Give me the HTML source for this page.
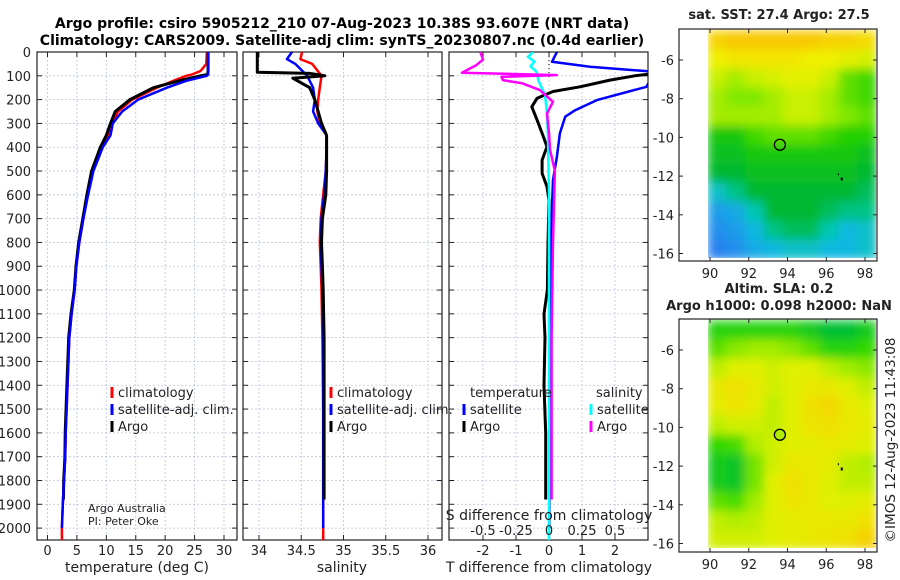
<!DOCTYPE html>
<html><head><meta charset="utf-8"><style>
body{margin:0;background:#fff;}
svg{display:block;font-family:"DejaVu Sans","Liberation Sans",sans-serif;}
</style></head><body>
<svg id="fig" width="900" height="580" viewBox="0 0 900 580" xmlns="http://www.w3.org/2000/svg">
<defs>
<filter id="blur" x="-10%" y="-10%" width="120%" height="120%"><feGaussianBlur stdDeviation="5" edgeMode="duplicate"/></filter>
<clipPath id="clipSst"><rect x="708" y="29" width="168" height="229"/></clipPath>
<clipPath id="clipSla"><rect x="708" y="319" width="168" height="229"/></clipPath>
<clipPath id="clipP1"><rect x="37" y="52" width="200" height="488"/></clipPath>
<clipPath id="clipP2"><rect x="243" y="52" width="199" height="488"/></clipPath>
<clipPath id="clipP3"><rect x="449" y="52" width="199" height="488"/></clipPath>
</defs>
<text x="342" y="28" font-size="14" font-weight="bold" text-anchor="middle">Argo profile: csiro 5905212_210 07-Aug-2023 10.38S 93.607E (NRT data)</text>
<text x="342" y="45" font-size="14" font-weight="bold" text-anchor="middle">Climatology: CARS2009. Satellite-adj clim: synTS_20230807.nc (0.4d earlier)</text>
<g id="layer"></g>
</svg>
<script>
// ---- data ----
const climTdepth=[0,50,80,95,100,120,150,200,250,300,350,400,500,600,700,800,900,1000,1100,1200,1400,1600,1700,1800,1900,2000,2050];
const climT=[27.1,27.0,26.0,24.5,23.6,21.5,18.6,14.4,12.0,11.0,10.3,9.2,7.7,6.8,6.1,5.4,4.9,4.6,4.1,3.7,3.4,3.1,3.0,2.8,2.6,2.45,2.45];
const satTdepth=[0,50,80,95,100,120,150,200,250,300,350,400,500,600,700,800,900,1000,1100,1200,1400,1600,1700,1800,1900,2000];
const satT=[27.3,27.3,27.3,27.3,27.1,23.7,20.3,15.4,12.7,11.1,10.7,9.4,7.8,6.9,6.1,5.4,4.9,4.6,4.1,3.7,3.4,3.1,3.0,2.8,2.6,2.45];
const argoTdepth=[0,50,80,95,100,120,150,200,250,300,350,400,500,600,700,800,900,1000,1100,1200,1400,1600,1700,1800,1880];
const argoT=[27.3,27.3,27.3,27.2,26.0,22.5,18.0,14.0,11.5,10.7,10.0,9.0,7.5,6.7,6.0,5.3,4.85,4.55,4.0,3.6,3.3,3.0,2.95,2.75,2.7];
const climSdepth=[0,30,50,100,150,200,250,300,350,400,500,600,700,800,900,1000,1200,1500,2000,2050];
const climS=[34.51,34.49,34.63,34.74,34.72,34.70,34.69,34.72,34.80,34.80,34.79,34.76,34.73,34.72,34.73,34.74,34.75,34.76,34.76,34.76];
const satSdepth=[0,30,50,100,150,200,250,300,350,400,500,600,700,800,900,1000,1200,1500,2000];
const satS=[34.39,34.33,34.43,34.57,34.64,34.66,34.64,34.70,34.80,34.80,34.79,34.77,34.74,34.73,34.74,34.75,34.76,34.76,34.76];
const argoSdepth=[0,85,90,100,110,130,150,200,250,300,350,400,500,600,700,800,900,1000,1200,1500,1880];
const argoS=[33.98,33.98,34.6,34.78,34.4,34.5,34.6,34.66,34.7,34.74,34.8,34.80,34.80,34.79,34.75,34.74,34.75,34.76,34.77,34.77,34.77];
const satTdDepth=[0,41,62,83,146,202,244,272,341,440,538,650,800,1000,1500,2000];
const satTd=[0.24,0.09,1.24,3.2,2.95,1.45,0.8,0.49,0.33,0.24,0.12,0.09,0.06,0.04,0.02,0.01];
const argoTdDepth=[90,100,118,146,166,194,230,286,341,398,454,510,566,622,800,1000,1100,1200,1400,1600,1880];
const argoTd=[3.2,2.6,1.85,0.94,0.12,-0.36,-0.52,-0.36,-0.21,-0.06,-0.21,-0.21,-0.06,0,-0.03,-0.05,-0.15,-0.12,-0.15,-0.1,-0.1];
const satSdDepth=[0,20,40,60,80,90,120,180,260,350,450,600,1000,2050];
const satSd=[-0.12,-0.16,-0.11,-0.14,-0.1,-0.09,-0.08,-0.03,-0.015,-0.008,-0.005,0,0,0];
const argoSdDepth=[0,32,55,87,97,104,118,132,160,209,258,341,412,500,800,1200,1880];
const argoSd=[-0.52,-0.5,-0.55,-0.66,0.06,-0.36,-0.35,-0.2,-0.07,0.03,-0.015,0,0.008,0.045,0.03,0.02,0.02];
const depthTicks=[0,100,200,300,400,500,600,700,800,900,1000,1100,1200,1300,1400,1500,1600,1700,1800,1900,2000];
const tempTicks=[0,5,10,15,20,25,30];
const salTicks=[34,34.5,35,35.5,36];
const salTickLabels=["34","34.5","35","35.5","36"];
const tdTicks=[-2,-1,0,1,2];
const sdTicks=[-0.5,-0.25,0,0.25,0.5];
const lonTicks=[90,92,94,96,98];
const latTicks=[-6,-8,-10,-12,-14,-16];
const sstGrid=[
[28.2,28.3,28.3,28.3,28.3,28.3,28.2,28.2,28.1],
[27.9,28.0,28.0,28.0,28.0,27.9,27.9,27.8,27.7],
[27.6,27.5,27.6,27.7,27.8,27.8,27.6,27.3,27.2],
[27.5,27.4,27.4,27.5,27.6,27.6,27.5,27.3,27.2],
[27.5,27.5,27.5,27.5,27.6,27.6,27.5,27.4,27.3],
[27.0,27.0,27.2,27.3,27.3,27.3,27.2,27.1,27.1],
[26.9,26.9,27.0,27.0,27.0,27.0,27.0,27.0,26.9],
[26.8,26.8,26.9,26.9,26.9,26.9,26.9,26.9,26.8],
[26.4,26.6,26.8,26.8,26.8,26.8,26.8,26.8,26.7],
[26.1,26.2,26.5,26.8,26.8,26.8,26.7,26.6,26.6],
[26.0,26.1,26.3,26.6,26.7,26.7,26.5,26.3,26.4],
[25.9,26.0,26.2,26.3,26.4,26.4,26.3,26.3,26.4]];
const slaGrid=[
[0.12,0.12,0.12,0.12,0.12,0.1,0.08,0.08,0.1],
[0.15,0.17,0.18,0.18,0.17,0.15,0.12,0.12,0.13],
[0.2,0.22,0.22,0.21,0.22,0.22,0.2,0.18,0.17],
[0.24,0.26,0.24,0.21,0.22,0.24,0.24,0.22,0.2],
[0.23,0.25,0.23,0.2,0.22,0.26,0.27,0.24,0.22],
[0.2,0.21,0.21,0.2,0.22,0.25,0.26,0.24,0.23],
[0.13,0.14,0.19,0.21,0.22,0.23,0.24,0.23,0.22],
[0.1,0.09,0.16,0.21,0.24,0.24,0.23,0.2,0.19],
[0.1,0.09,0.16,0.22,0.26,0.24,0.22,0.2,0.2],
[0.15,0.14,0.18,0.22,0.25,0.24,0.22,0.22,0.23],
[0.2,0.19,0.2,0.22,0.23,0.24,0.24,0.24,0.26],
[0.21,0.21,0.21,0.22,0.23,0.24,0.25,0.26,0.28]];
const argoLon=93.607, argoLat=-10.38;

// ---- helpers ----
const NS="http://www.w3.org/2000/svg";
const layer=document.getElementById('layer');
function mk(tag,attrs,parent){const e=document.createElementNS(NS,tag);for(const k in attrs)e.setAttribute(k,attrs[k]);(parent||layer).appendChild(e);return e;}
function txt(x,y,s,size,anchor,parent){const t=mk('text',{x:x,y:y,'font-size':size,'text-anchor':anchor||'middle',fill:'#222'},parent);t.textContent=s;return t;}
const Y0=52, Y1=540;
const yD=d=>Y0+d/2050*(Y1-Y0);
function lin(d0,d1,r0,r1){return v=>r0+(v-d0)/(d1-d0)*(r1-r0);}
const xT=lin(0,30,47.5,224);
const xS=lin(34,36,259,428);
const xTd=lin(-2,2,483,615);
const xSd=v=>xTd(v*4);
const panels=[{x0:37,x1:237,name:'temperature-panel'},{x0:243,x1:442,name:'salinity-panel'},{x0:449,x1:648,name:'difference-panel'}];

function panelFrame(p,xs,ticks,labels){
  const g=mk('g',{});
  
  
  ticks.forEach(v=>{mk('line',{x1:xs(v),x2:xs(v),y1:Y0,y2:Y1,stroke:'#b8c4e0','stroke-width':0.8,'stroke-dasharray':'2,2'},g);});
  depthTicks.forEach(d=>{mk('line',{x1:p.x0,x2:p.x1,y1:yD(d),y2:yD(d),stroke:'#b8c4e0','stroke-width':0.8,'stroke-dasharray':'2,2'},g);
    mk('line',{x1:p.x0,x2:p.x0+5,y1:yD(d),y2:yD(d),stroke:'#222'},g);mk('line',{x1:p.x1-5,x2:p.x1,y1:yD(d),y2:yD(d),stroke:'#222'},g);});
  ticks.forEach((v,i)=>{mk('line',{x1:xs(v),x2:xs(v),y1:Y1,y2:Y1-5,stroke:'#222'},g);mk('line',{x1:xs(v),x2:xs(v),y1:Y0,y2:Y0+5,stroke:'#222'},g);
    const t=txt(xs(v),555,labels[i],13,'middle',g);});
  mk('rect',{x:p.x0,y:Y0,width:p.x1-p.x0,height:Y1-Y0,fill:'none',stroke:'#222','stroke-width':1.2},g);
  return g;
}
function series(xs,depths,vals,color,w,clip,name){
  const pts=vals.map((v,i)=>xs(v).toFixed(1)+','+yD(depths[i]).toFixed(1)).join(' ');
  const pl=mk('polyline',{points:pts,fill:'none',stroke:color,'stroke-width':w,'stroke-linejoin':'round','clip-path':'url(#'+clip+')'});
  
  
}
panelFrame(panels[0],xT,tempTicks,tempTicks.map(String));
panelFrame(panels[1],xS,salTicks,salTickLabels);
panelFrame(panels[2],xTd,tdTicks,tdTicks.map(String));
depthTicks.forEach(d=>{const t=txt(31,yD(d)+5,String(d),13,'end');});
let xl=txt(137,572,'temperature (deg C)',14);
xl=txt(342,572,'salinity',14);
xl=txt(549,572,'T difference from climatology',14);

series(xT,climTdepth,climT,'#ff0000',2.5,'clipP1','climatology-temperature-line');
series(xT,argoTdepth,argoT,'#000',3,'clipP1','argo-temperature-line');
series(xT,satTdepth,satT,'#0000ff',2.5,'clipP1','satellite-temperature-line');
series(xS,climSdepth,climS,'#ff0000',2.5,'clipP2','climatology-salinity-line');
series(xS,satSdepth,satS,'#0000ff',2.5,'clipP2','satellite-salinity-line');
series(xS,argoSdepth,argoS,'#000',3,'clipP2','argo-salinity-line');
mk('line',{x1:xTd(0),x2:xTd(0),y1:Y0,y2:yD(110),stroke:'#000','stroke-width':1,'stroke-dasharray':'1,3'});
series(xTd,satTdDepth,satTd,'#0000ff',2.5,'clipP3','satellite-t-difference-line');
series(xTd,argoTdDepth,argoTd,'#000',3,'clipP3','argo-t-difference-line');
series(xSd,satSdDepth,satSd,'#00ffff',2.5,'clipP3','satellite-s-difference-line');
series(xSd,argoSdDepth,argoSd,'#ff00ff',2.5,'clipP3','argo-s-difference-line');
let st=txt(549,520,'S difference from climatology',14);
sdTicks.forEach(v=>{const t=txt(xSd(v),535,String(v),13);});

function legendEntry(x,y,color,label,name){
  const g=mk('g',{});
  
  
  mk('line',{x1:x,x2:x,y1:y-10,y2:y+1,stroke:color,'stroke-width':3},g);
  txt(x+6,y,label,13,'start',g);
}
legendEntry(112,397,'#ff0000','climatology','legend-climatology');
legendEntry(112,414,'#0000ff','satellite-adj. clim.','legend-satellite');
legendEntry(112,431,'#000','Argo','legend-argo');
legendEntry(331,397,'#ff0000','climatology','legend-climatology-salinity');
legendEntry(331,414,'#0000ff','satellite-adj. clim.','legend-satellite-salinity');
legendEntry(331,431,'#000','Argo','legend-argo-salinity');
let lt=txt(470,397,'temperature',13,'start');
lt=txt(596,397,'salinity',13,'start');
legendEntry(464,414,'#0000ff','satellite','legend-t-satellite');
legendEntry(464,431,'#000','Argo','legend-t-argo');
legendEntry(591,414,'#00ffff','satellite','legend-s-satellite');
legendEntry(591,431,'#ff00ff','Argo','legend-s-argo');
let cr=txt(88,512,'Argo Australia',11,'start');
cr=txt(88,525,'PI: Peter Oke',11,'start');

// ---- maps ----
function rgb(c){return 'rgb('+c.map(Math.round).join(',')+')';}
function interp(stops,v){
  if(v<=stops[0][0])return rgb(stops[0][1]);
  for(let i=1;i<stops.length;i++){if(v<=stops[i][0]){const a=stops[i-1],b=stops[i];const f=(v-a[0])/(b[0]-a[0]);
    return rgb(a[1].map((c,k)=>c+(b[1][k]-c)*f));}}
  return rgb(stops[stops.length-1][1]);
}
const sstStops=[[25.9,[40,128,240]],[26.3,[16,184,224]],[26.5,[0,200,176]],[26.8,[0,184,48]],[27.1,[32,208,0]],[27.4,[128,232,0]],[27.6,[200,240,0]],[27.9,[240,240,0]],[28.3,[248,200,0]]];
const slaStops=[[0.08,[0,192,48]],[0.13,[48,216,0]],[0.18,[160,236,0]],[0.22,[224,240,0]],[0.26,[240,224,0]],[0.29,[248,200,0]]];
function drawMap(top,bottom,lat0y,grid,stops,clip,name,titleY,titleLines,markFill){
  const xL=lin(90,98,710,865);
  const yL=v=>lat0y+(-6-v)*19.35;
  const g=mk('g',{});
  
  
  const hg=mk('g',{'clip-path':'url(#'+clip+')'},g);
  const hb=mk('g',{filter:'url(#blur)'},hg);
  const lonA=89.9,lonB=98.6,latA=-4.5,latB=-16.3;
  const nr=grid.length,nc=grid[0].length;
  const dLon=(lonB-lonA)/nc,dLat=(latA-latB)/nr;
  grid.forEach((row,r)=>row.forEach((v,c)=>{
    const x=xL(lonA+c*dLon),y=yL(latA-r*dLat);
    const cell=mk('rect',{x:x-0.5,y:y-0.5,width:xL(lonA+(c+1)*dLon)-x+1,height:yL(latA-(r+1)*dLat)-y+1,fill:interp(stops,v)},hb);
    
    
  }));
  mk('rect',{x:679,y:top,width:198,height:bottom-top,fill:'none',stroke:'#222','stroke-width':1.2},g);
  lonTicks.forEach(v=>{mk('line',{x1:xL(v),x2:xL(v),y1:bottom,y2:bottom-4,stroke:'#222'},g);mk('line',{x1:xL(v),x2:xL(v),y1:top,y2:top+4,stroke:'#222'},g);
    const t=txt(xL(v),bottom+17,String(v),13,'middle',g);});
  latTicks.forEach(v=>{mk('line',{x1:679,x2:683,y1:yL(v),y2:yL(v),stroke:'#222'},g);mk('line',{x1:877,x2:873,y1:yL(v),y2:yL(v),stroke:'#222'},g);
    const t=txt(674,yL(v)+5,String(v),13,'end',g);});
  const mark=mk('ellipse',{cx:xL(argoLon),cy:yL(argoLat),rx:5.5,ry:5.5,fill:markFill,stroke:'#000','stroke-width':1.3},g);
  
  
  mk('rect',{x:xL(96.8)-1,y:yL(-12.15)-1.5,width:2,height:3,fill:'#000'},g);
  mk('rect',{x:xL(96.6),y:yL(-11.85),width:1,height:2,fill:'#000'},g);
  titleLines.forEach((s,i)=>{const t=txt(779,titleY+i*17,s,13,'middle',g);t.setAttribute('font-weight','bold');});
}
drawMap(29,261,60,sstGrid,sstStops,'clipSst','sst-map',19,['sat. SST: 27.4 Argo: 27.5'],'none');
drawMap(319,552,350,slaGrid,slaStops,'clipSla','sla-map',293,['Altim. SLA: 0.2','Argo h1000: 0.098 h2000: NaN'],'#b0ec00');
const cp=txt(0,0,'©IMOS 12-Aug-2023 11:43:08',13.5,'middle');
cp.setAttribute('transform','translate(895,440) rotate(-90)');


</script>
</body></html>
